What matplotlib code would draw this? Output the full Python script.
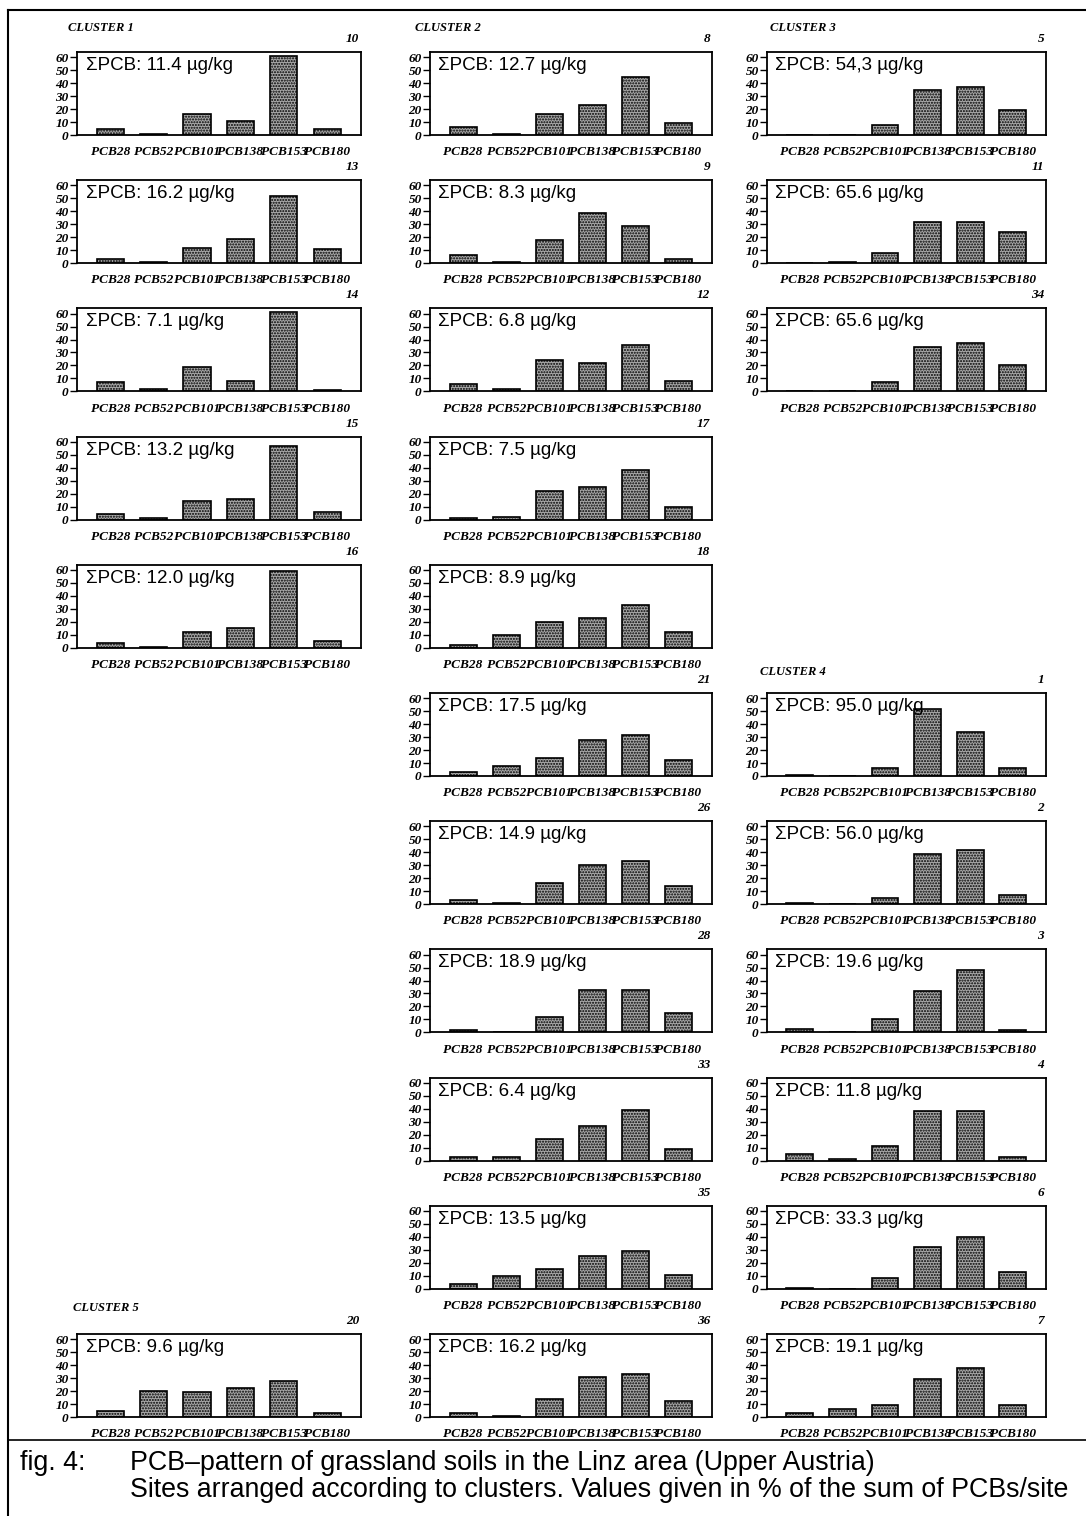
import numpy as np
import matplotlib
matplotlib.use('Agg')
import matplotlib.pyplot as plt
from matplotlib.lines import Line2D

pcb_labels = ['PCB28', 'PCB52', 'PCB101', 'PCB138', 'PCB153', 'PCB180']

# cluster 1
c1_sites = [10, 13, 14, 15, 16]
c1_sums = ['11.4', '16.2', '7.1', '13.2', '12.0']
c1_vals = [[5, 1, 16, 11, 61, 5],
           [3, 1, 12, 19, 52, 11],
           [7, 2, 19, 8, 61, 1],
           [4, 1, 14, 16, 57, 6],
           [4, 1, 12, 15, 59, 5]]

# cluster 2
c2_sites = [8, 9, 12, 17, 18, 21, 26, 28, 33, 35, 36]
c2_sums = ['12.7', '8.3', '6.8', '7.5', '8.9', '17.5', '14.9', '18.9', '6.4', '13.5', '16.2']
c2_vals = [[6, 1, 16, 23, 45, 9],
           [6, 1, 18, 39, 29, 3],
           [6, 2, 24, 22, 36, 8],
           [1, 2, 22, 25, 38, 10],
           [2, 10, 20, 23, 33, 12],
           [3, 8, 14, 28, 32, 12],
           [3, 1, 16, 30, 33, 14],
           [2, 0.5, 12, 33, 33, 15],
           [3, 3, 17, 27, 39, 9],
           [4, 10, 15, 25, 29, 11],
           [3, 1, 14, 31, 33, 12]]

# cluster 3
c3_sites = [5, 11, 34]
c3_sums = ['54,3', '65.6', '65.6']
c3_vals = [[0, 0, 8, 35, 37, 19],
           [0.5, 1, 8, 32, 32, 24],
           [0.5, 0, 7, 34, 37, 20]]

# cluster 4
c4_sites = [1, 2, 3, 4, 6, 7]
c4_sums = ['95.0', '56.0', '19.6', '11.8', '33.3', '19.1']
c4_vals = [[1, 0, 6, 52, 34, 6],
           [1, 0, 5, 39, 42, 7],
           [3, 0.5, 10, 32, 48, 2],
           [5, 1, 11, 38, 38, 3],
           [1, 0, 8, 32, 40, 13],
           [3, 6, 9, 29, 38, 9]]

# cluster 5
c5_sites = [20]
c5_sums = ['9.6']
c5_vals = [[5, 20, 19, 22, 28, 3]]

W, H = 1086, 1516
fig = plt.figure(figsize=(W / 100, H / 100), dpi=100)
plt.rcParams['hatch.linewidth'] = 1.0
plt.rcParams['hatch.color'] = '#222222'

serif = 'Liberation Serif'
sans = 'Liberation Sans'

col_left = [77, 430, 767]
col_width = [284, 282, 279]
row_top = [52 + 128.2 * i for i in range(11)]
ax_h = 83


def box(x, y, w, h):
    # pixel box (top-left origin) -> figure fraction
    return [x / W, 1 - (y + h) / H, w / W, h / H]


def ftext(x, y, s, **kw):
    fig.text(x / W, 1 - y / H, s, **kw)


def panel(col, row, site, total, vals):
    ax = fig.add_axes(box(col_left[col], row_top[row], col_width[col], ax_h))
    x = np.arange(len(pcb_labels))
    ax.bar(x, vals, width=0.63, facecolor='#a8a8a8', edgecolor='black',
           hatch='......', linewidth=1.2)
    ax.set_xlim(-0.77, 5.78)
    ax.set_ylim(0, 64)
    ax.set_yticks(range(0, 61, 10))
    ax.set_xticks(x)
    ax.set_xticklabels(pcb_labels, family=serif, weight='bold', style='italic', fontsize=9.6)
    ax.tick_params(axis='x', length=0, pad=8)
    ax.tick_params(axis='y', length=5, width=1, pad=1)
    for lb in ax.get_yticklabels():
        lb.set_family(serif)
        lb.set_weight('bold')
        lb.set_style('italic')
        lb.set_fontsize(9.5)
    for sp in ax.spines.values():
        sp.set_linewidth(1.3)
    ax.text(0.03, 0.94, 'ΣPCB: ' + total + ' µg/kg', transform=ax.transAxes,
            va='top', ha='left', fontsize=13.5, family=sans)
    ftext(col_left[col] + col_width[col] - 2, row_top[row] - 13, str(site),
          ha='right', va='center', family=serif, weight='bold', style='italic', fontsize=9.5)


for i in range(len(c1_sites)):
    panel(0, i, c1_sites[i], c1_sums[i], c1_vals[i])
for i in range(len(c2_sites)):
    panel(1, i, c2_sites[i], c2_sums[i], c2_vals[i])
for i in range(len(c3_sites)):
    panel(2, i, c3_sites[i], c3_sums[i], c3_vals[i])
for i in range(len(c4_sites)):
    panel(2, i + 5, c4_sites[i], c4_sums[i], c4_vals[i])
panel(0, 10, c5_sites[0], c5_sums[0], c5_vals[0])

clabel = dict(ha='left', va='center', family=serif, weight='bold', style='italic', fontsize=9)
ftext(68, 28, 'CLUSTER 1', **clabel)
ftext(415, 28, 'CLUSTER 2', **clabel)
ftext(770, 28, 'CLUSTER 3', **clabel)
ftext(760, 672, 'CLUSTER 4', **clabel)
ftext(73, 1308, 'CLUSTER 5', **clabel)

# frame lines
fig.add_artist(Line2D([8 / W, 1], [1 - 10 / H, 1 - 10 / H], color='black', lw=1.5))
fig.add_artist(Line2D([8 / W, 8 / W], [0, 1 - 10 / H], color='black', lw=1.5))
fig.add_artist(Line2D([8 / W, 1], [1 - 1440 / H, 1 - 1440 / H], color='black', lw=1.2))

cap = dict(ha='left', va='center', family=sans, fontsize=19.3)
ftext(20, 1463, 'fig. 4:', **cap)
ftext(130, 1463, 'PCB–pattern of grassland soils in the Linz area (Upper Austria)', **cap)
ftext(130, 1490, 'Sites arranged according to clusters. Values given in % of the sum of PCBs/site', **cap)

fig.savefig('out.png', dpi=100)
